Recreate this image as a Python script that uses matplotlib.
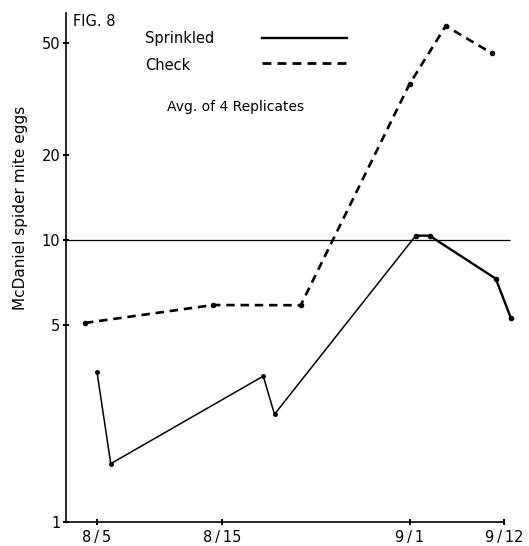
import numpy as np
import matplotlib
matplotlib.use('agg')
import matplotlib.pyplot as plt

# x in "day" units (8/5 = 5, 8/15 = 15); the original axis is hand-spaced
tick_pos = [5, 15, 30.04, 37.56]
tick_labels = ['8\u2009/\u20095', '8\u2009/\u200915', '9\u2009/\u20091', '9\u2009/\u200912']

sprinkled_x = [5.0, 6.1, 18.3, 19.2, 30.5, 31.6, 36.9, 38.1]
sprinkled_y = [3.40, 1.61, 3.29, 2.41, 10.36, 10.36, 7.29, 5.30]

check_x = [4.04, 14.3, 21.3, 30.0, 32.9, 36.6]
check_y = [5.08, 5.88, 5.87, 35.7, 57.4, 45.9]

y_ticks = [1, 5, 10, 20, 50]

plt.rcParams['font.family'] = ['DejaVu Sans']

fig = plt.figure(figsize=(5.29, 5.46), dpi=100)
ax = fig.add_axes([66 / 529, 1 - 522 / 546, 448.5 / 529, 509 / 546])
ax.set_yscale('log')
ax.set_xlim(2.52, 38.4)
ax.set_ylim(1, 63.8)

# reference line at 10
ax.hlines(10, 2.52, 38.0, color='k', linewidth=0.9)

# sprinkled: thin first part, heavier after 9/1
ax.plot(sprinkled_x[:5], sprinkled_y[:5], color='k', linewidth=1.1,
        marker='o', markersize=2.5)
ax.plot(sprinkled_x[4:], sprinkled_y[4:], color='k', linewidth=1.7,
        marker='o', markersize=3)
ax.plot(check_x, check_y, color='k', linewidth=1.9, dashes=(3.2, 2.2),
        marker='o', markersize=3)

ax.spines['top'].set_visible(False)
ax.spines['right'].set_visible(False)
ax.spines['bottom'].set_bounds(2.52, 37.56)
ax.spines['left'].set_linewidth(1.2)
ax.spines['bottom'].set_linewidth(1.2)

ax.set_yticks(y_ticks)
ax.set_yticklabels([str(v) for v in y_ticks])
ax.yaxis.set_minor_locator(matplotlib.ticker.NullLocator())
ax.set_xticks(tick_pos)
ax.set_xticklabels(tick_labels)
ax.tick_params(axis='both', direction='inout', length=4, width=1.5, labelsize=10.5)
ax.tick_params(axis='y', pad=2)
ax.tick_params(axis='x', pad=4)

ax.set_ylabel('McDaniel spider mite eggs', fontsize=11)
ax.yaxis.set_label_coords(-0.085, 0.617)

# texts and key drawn on the figure
fig.text(73 / 529, 1 - 21 / 546, 'FIG. 8', fontsize=10.5, va='center')
fig.text(145 / 529, 1 - 39 / 546, 'Sprinkled', fontsize=10.5, va='center')
fig.text(145 / 529, 1 - 65 / 546, 'Check', fontsize=10.5, va='center')
fig.text(167 / 529, 1 - 107 / 546, 'Avg. of 4 Replicates', fontsize=10, va='center')
fig.add_artist(plt.Line2D([262 / 529, 347 / 529], [1 - 37.7 / 546] * 2,
                          color='k', linewidth=1.7))
fig.add_artist(plt.Line2D([262 / 529, 347 / 529], [1 - 63.3 / 546] * 2,
                          color='k', linewidth=2.0, dashes=(3.2, 2.2)))

fig.savefig('out.png', dpi=100)
